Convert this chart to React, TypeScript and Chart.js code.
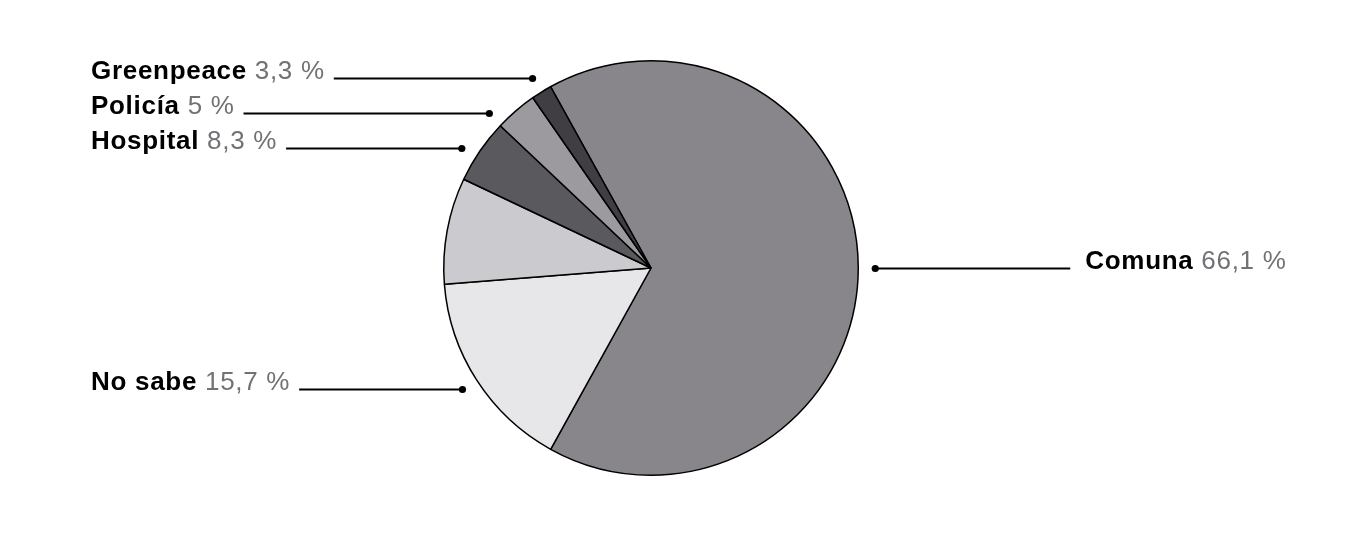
import { useEffect, useRef } from "react";
import { Chart, registerables, type Plugin } from "chart.js";

Chart.register(...registerables);

// slices clockwise, starting at the Comuna slice
const categories = ["Comuna", "No sabe", "", "Hospital", "Policía", "Greenpeace"];
const values = [66.1, 15.7, 8.3, 5.0, 3.3, 1.6];
const shownPct = ["66,1 %", "15,7 %", "", "8,3 %", "5 %", "3,3 %"];
const sliceColors = ["#88868b", "#e7e7ea", "#cbcbcf", "#5a595e", "#9c9a9f", "#403e42"];

const FONT = "'Liberation Sans', Arial, Helvetica, sans-serif";

const leaderLabels: Plugin<"pie"> = {
  id: "leaderLabels",
  afterDraw(chart) {
    const ctx = chart.ctx as CanvasRenderingContext2D & { letterSpacing?: string };
    const meta = chart.getDatasetMeta(0);
    const items: { i: number; x: number; y: number; cx: number; cy: number; r: number; left: boolean }[] = [];
    meta.data.forEach((el: any, i: number) => {
      if (!categories[i]) return;
      const mid = (el.startAngle + el.endAngle) / 2;
      const r = el.outerRadius + 17;
      const x = el.x + Math.cos(mid) * r;
      const y = el.y + Math.sin(mid) * r;
      items.push({ i, x, y, cx: el.x, cy: el.y, r, left: x < el.x });
    });

    // keep left labels apart
    const left = items.filter((d) => d.left).sort((a, b) => a.y - b.y);
    for (let k = 1; k < left.length; k++) {
      if (left[k].y < left[k - 1].y + 35) {
        const d = left[k];
        d.y = left[k - 1].y + 35;
        const dy = d.y - d.cy;
        d.x = d.cx - Math.sqrt(Math.max(d.r * d.r - dy * dy, 0));
      }
    }

    ctx.save();
    ctx.textBaseline = "alphabetic";
    ctx.letterSpacing = "0.7px";
    items.forEach((d) => {
      const name = categories[d.i];
      const pct = " " + shownPct[d.i];
      ctx.font = `bold 26px ${FONT}`;
      const wName = ctx.measureText(name).width;
      ctx.font = `26px ${FONT}`;
      const wPct = ctx.measureText(pct).width;

      let tx: number, lx0: number, lx1: number;
      if (d.left) {
        tx = 91;
        lx0 = tx + wName + wPct + 9;
        lx1 = d.x;
      } else {
        lx0 = d.x;
        lx1 = d.x + 195;
        tx = lx1 + 15;
      }
      const ly = Math.round(d.y) + 0.5;

      ctx.strokeStyle = "#000";
      ctx.lineWidth = 2;
      ctx.beginPath();
      ctx.moveTo(lx0, ly);
      ctx.lineTo(lx1, ly);
      ctx.stroke();
      ctx.fillStyle = "#000";
      ctx.beginPath();
      ctx.arc(d.x, ly, 3.6, 0, Math.PI * 2);
      ctx.fill();

      ctx.font = `bold 26px ${FONT}`;
      ctx.fillStyle = "#000";
      ctx.fillText(name, tx, ly);
      ctx.font = `26px ${FONT}`;
      ctx.fillStyle = "#727175";
      ctx.fillText(pct, tx + wName, ly);
    });
    ctx.restore();
  },
};

export default function App() {
  const canvasRef = useRef<HTMLCanvasElement>(null);
  const chartRef = useRef<Chart | null>(null);

  useEffect(() => {
    document.body.style.margin = "0";
    if (!canvasRef.current) return;
    chartRef.current?.destroy();

    chartRef.current = new Chart(canvasRef.current, {
      type: "pie",
      data: {
        labels: categories,
        datasets: [
          {
            data: values,
            backgroundColor: sliceColors,
            borderColor: "#000",
            borderWidth: 1.5,
            borderAlign: "center",
          },
        ],
      },
      options: {
        animation: false,
        responsive: true,
        maintainAspectRatio: false,
        rotation: -29,
        layout: { padding: { top: 60, bottom: 64, left: 200, right: 262 } },
        plugins: {
          legend: { display: false },
          tooltip: { enabled: false },
        },
      },
      plugins: [leaderLabels],
    });

    return () => {
      chartRef.current?.destroy();
      chartRef.current = null;
    };
  }, []);

  return (
    <div style={{ width: 1364, height: 540, position: "relative", background: "#fff" }}>
      <canvas ref={canvasRef} />
    </div>
  );
}
